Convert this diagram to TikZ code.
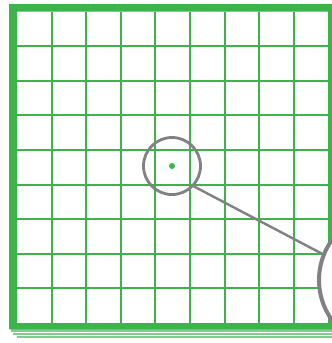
\documentclass[tikz,border=0pt]{standalone}
\definecolor{gridgreen}{RGB}{59,181,74}
\definecolor{stackgreen}{RGB}{128,206,138}
\definecolor{lensgray}{RGB}{128,128,133}
\pgfdeclareradialshading{lensglow}{\pgfpoint{6bp}{6bp}}{color(0bp)=(white); color(39bp)=(white); color(50bp)=(lensgray!30)}
\tikzset{
  gridline/.style={draw=gridgreen,line width=2pt},
  lens/.style={circle,draw=lensgray,inner sep=0pt},
  spot/.style={circle,fill=gridgreen,inner sep=0pt,minimum size=6pt}
}
\begin{document}
\begin{tikzpicture}[x=1pt,y=-1pt]
  \useasboundingbox (0,0) rectangle (332,343);
  \clip (0,0) rectangle (332,343);
  \fill[white] (0,0) rectangle (332,343);
  \fill[stackgreen] (11,329.3) rectangle (340,331.8);
  \fill[stackgreen] (13.3,332.6) rectangle (340,335.1);
  \fill[stackgreen] (16.5,335.9) rectangle (340,338.4);
  \fill[gridgreen,even odd rule] (9,4) rectangle (336,329.3) (17,11.5) rectangle (328,323);
  \foreach \i in {1,...,8} {
    \draw[gridline] ({17+34.6*\i},11.5) -- ({17+34.6*\i},323);
    \draw[gridline] (17,{11.5+34.6*\i}) -- (328,{11.5+34.6*\i});
  }
  \node[lens,line width=2.8pt,minimum size=57pt] (loupe) at (172,166) {};
  \node[spot] (target) at (172,166) {};
  \node[lens,line width=4pt,minimum size=136pt,shade,shading=lensglow] (zoomlens) at (387,280) {};
  \draw[lensgray,line width=2.4pt] (loupe.-43) -- (zoomlens.158);
\end{tikzpicture}
\end{document}
